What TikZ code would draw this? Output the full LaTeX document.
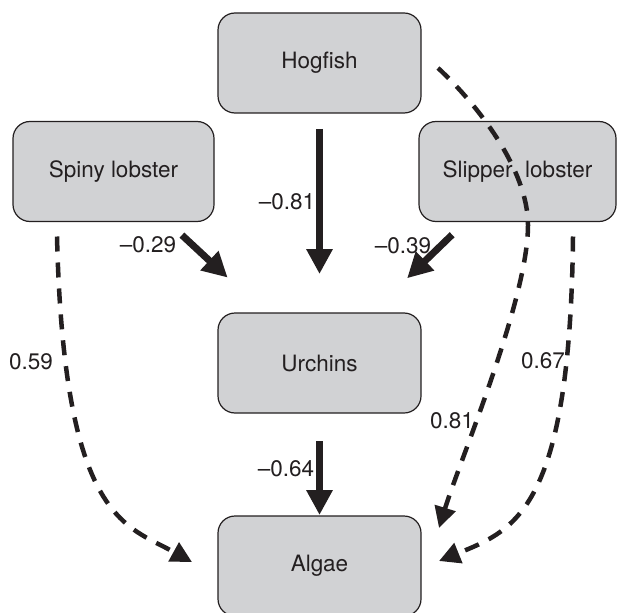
\documentclass[tikz,border=0pt]{standalone}
\usepackage{fontspec}
\setmainfont{TeX Gyre Heros}
\usepackage{tikz}
\usepackage{tkz-graph}
\usetikzlibrary{arrows.meta}
\definecolor{boxgray}{RGB}{209,210,212}
\definecolor{ink}{RGB}{35,31,32}
\tikzset{coef/.style={text=ink, font=\fontsize{22.5}{27}\selectfont, inner sep=0pt}}
\tikzset{dashedge/.style={draw=ink, line width=4.5pt, dash pattern=on 15pt off 11pt, -{Triangle[length=21pt,width=21pt]}}}

\begin{document}
\begin{tikzpicture}[x=1pt,y=-1pt]
\useasboundingbox (0,0) rectangle (617,612);
\GraphInit[vstyle=Normal]
\SetVertexNormal[Shape = rectangle, LineWidth = 1.2pt, FillColor = boxgray, LineColor = ink, OuterSep = 0pt]
\tikzset{VertexStyle/.append style={rounded corners=17pt, minimum width=203pt, minimum height=100pt, inner sep=0pt, text=ink, font=\fontsize{22.5}{27}\selectfont}}
\Vertex[x=319.5, y=63, L=Hogfish]{hog}
\Vertex[x=319.5, y=363, L=Urchins]{urc}
\Vertex[x=319.5, y=566, L=Algae]{alg}
\tikzset{VertexStyle/.append style={minimum width=201pt}}
\Vertex[x=113.5, y=171.5, L={Spiny lobster}]{spl}
\tikzset{VertexStyle/.append style={minimum width=197pt}}
\Vertex[x=517.5, y=171.5, L={Slipper~~lobster}]{sll}
% direct effects
\tikzset{EdgeStyle/.style={draw=ink, line width=7pt, -{Triangle[length=25pt,width=25pt]}}}
\Edge[style={shorten <=16pt, shorten >=39pt}](hog)(urc)
\Edge[style={shorten <=20pt, shorten >=52pt}](spl)(urc)
\Edge[style={shorten <=19pt, shorten >=50pt}](sll)(urc)
\Edge[style={shorten <=28pt, shorten >=1pt}](urc)(alg)
% indirect effects
\draw[dashedge] ([shift={(44,15)}]spl.south west) .. controls (64,520) and (125,525) .. ([shift={(-26,-4)}]alg.west);
\draw[dashedge] ([shift={(17,5)}]hog.east) .. controls (478,105) and (528,170) .. (528,225)
  .. controls (528,300) and (460,460) .. ([shift={(18,12)}]alg.north east);
\draw[dashedge] ([shift={(55.5,15)}]sll.south) .. controls (570,510) and (515,530) .. ([shift={(18,-5)}]alg.east);
% coefficients
\node[coef] (c81) at (287,202) {\textendash0.81};
\node[coef] (c29) at (148,245) {\textendash0.29};
\node[coef] (c39) at (403,246) {\textendash0.39};
\node[coef] (c64) at (286,469) {\textendash0.64};
\node[coef] (c59) at (31,362) {0.59};
\node[coef] (c81b) at (452,421) {0.81};
\node[coef] (c67) at (543,361) {0.67};
\end{tikzpicture}
\end{document}
